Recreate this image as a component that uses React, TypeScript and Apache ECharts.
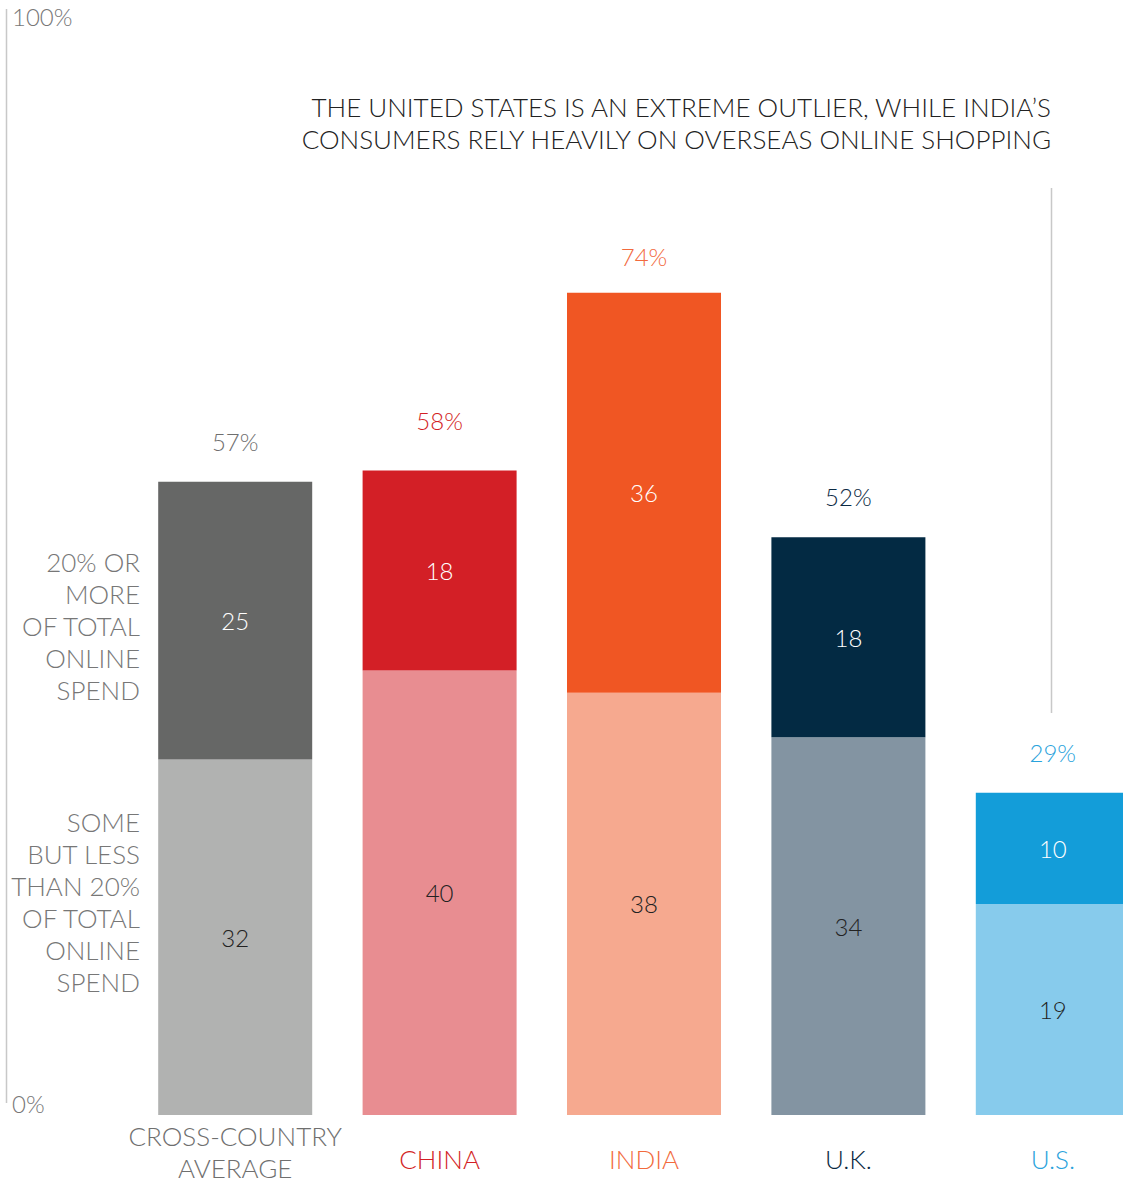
import React, { useEffect, useRef } from "react";
import * as echarts from "echarts";

const categories = ["CROSS-COUNTRY\nAVERAGE", "CHINA", "INDIA", "U.K.", "U.S."];
const someLess = [32, 40, 38, 34, 19];
const twentyPlus = [25, 18, 36, 18, 10];
const totals = [57, 58, 74, 52, 29];
const topColors = ["#666766", "#d31f26", "#f05623", "#032a43", "#139dd9"];
const bottomColors = ["#b1b2b1", "#e88d91", "#f6a98f", "#8394a2", "#87cbec"];
const accentColors = ["#6f6f6f", "#d31f26", "#f26a3d", "#0b2a43", "#2aa3dc"];
const yTicks = [0, 100];
const title = "THE UNITED STATES IS AN EXTREME OUTLIER, WHILE INDIA\u2019S\nCONSUMERS RELY HEAVILY ON OVERSEAS ONLINE SHOPPING";
const upperLabel = "20% OR\nMORE\nOF TOTAL\nONLINE\nSPEND";
const lowerLabel = "SOME\nBUT LESS\nTHAN 20%\nOF TOTAL\nONLINE\nSPEND";

const FONT = "Lato";

export default function App() {
  const ref = useRef<HTMLDivElement>(null);
  useEffect(() => {
    if (!ref.current) return;
    const chart = echarts.init(ref.current, undefined, { renderer: "svg" });
    chart.setOption({
      animation: false,
      textStyle: { fontFamily: FONT, fontWeight: 300 },
      grid: { left: 133, right: -32, top: 4, bottom: 70, outerBoundsMode: "none", containLabel: false },
      xAxis: {
        type: "category",
        data: categories.map((c, i) => ({
          value: c,
          textStyle: {
            color: accentColors[i],
            padding: c.indexOf("\n") >= 0 ? 0 : [23, 0, 0, 0],
          },
        })),
        axisLine: { show: false },
        axisTick: { show: false },
        axisLabel: {
          fontSize: 26,
          fontFamily: FONT,
          fontWeight: 300,
          margin: 5,
          lineHeight: 32,
          interval: 0,
        },
      },
      yAxis: {
        type: "value",
        min: yTicks[0],
        max: yTicks[1],
        interval: 100,
        offset: 127,
        axisLine: { show: false },
        axisTick: { show: false },
        splitLine: { show: false },
        axisLabel: {
          inside: true,
          margin: 6,
          fontSize: 24,
          color: "#777777",
          fontFamily: FONT,
          fontWeight: 300,
          formatter: (v: number) => v + "%",
          verticalAlignMinLabel: "bottom",
          verticalAlignMaxLabel: "top",
        },
      },
      series: [
        {
          type: "bar",
          stack: "s",
          barWidth: 154,
          data: someLess.map((v, i) => ({ value: v, itemStyle: { color: bottomColors[i] } })),
          label: {
            show: true,
            position: "inside",
            color: "#222222",
            fontSize: 24,
            fontFamily: FONT,
            fontWeight: 300,
          },
        },
        {
          type: "bar",
          stack: "s",
          barWidth: 154,
          data: twentyPlus.map((v, i) => ({ value: v, itemStyle: { color: topColors[i] } })),
          label: {
            show: true,
            position: "inside",
            color: "#ffffff",
            fontSize: 24,
            fontFamily: FONT,
            fontWeight: 300,
          },
        },
        {
          type: "line",
          data: totals.map((v, i) => ({
            value: v,
            label: { color: accentColors[i], distance: i === 1 ? 38 : i === 2 ? 24 : 28 },
          })),
          symbol: "circle",
          symbolSize: 1,
          itemStyle: { color: "rgba(0,0,0,0)" },
          lineStyle: { opacity: 0 },
          silent: true,
          label: {
            show: true,
            position: "top",
            fontSize: 24,
            fontFamily: FONT,
            fontWeight: 300,
            formatter: (p: any) => p.value + "%",
          },
        },
      ],
      graphic: [
        {
          type: "line",
          shape: { x1: 6.5, y1: 9, x2: 6.5, y2: 1103 },
          style: { stroke: "#c8c8c8", lineWidth: 1.5 },
        },
        {
          type: "line",
          shape: { x1: 1051.5, y1: 188, x2: 1051.5, y2: 713 },
          style: { stroke: "#c8c8c8", lineWidth: 1.5 },
        },
        {
          type: "text",
          x: 1051,
          y: 123,
          style: {
            text: title,
            align: "right",
            verticalAlign: "middle",
            fontSize: 26,
            lineHeight: 32,
            fontFamily: FONT,
            fontWeight: 300,
            fill: "#222222",
          },
        },
        {
          type: "text",
          x: 140,
          y: 626,
          style: {
            text: upperLabel,
            align: "right",
            verticalAlign: "middle",
            fontSize: 26,
            lineHeight: 32,
            fontFamily: FONT,
            fontWeight: 300,
            fill: "#777777",
          },
        },
        {
          type: "text",
          x: 140,
          y: 902,
          style: {
            text: lowerLabel,
            align: "right",
            verticalAlign: "middle",
            fontSize: 26,
            lineHeight: 32,
            fontFamily: FONT,
            fontWeight: 300,
            fill: "#777777",
          },
        },
      ],
    });
    return () => chart.dispose();
  }, []);
  return (
    <div
      ref={ref}
      style={{ position: "absolute", left: 0, top: 0, width: 1123, height: 1185 }}
    />
  );
}
